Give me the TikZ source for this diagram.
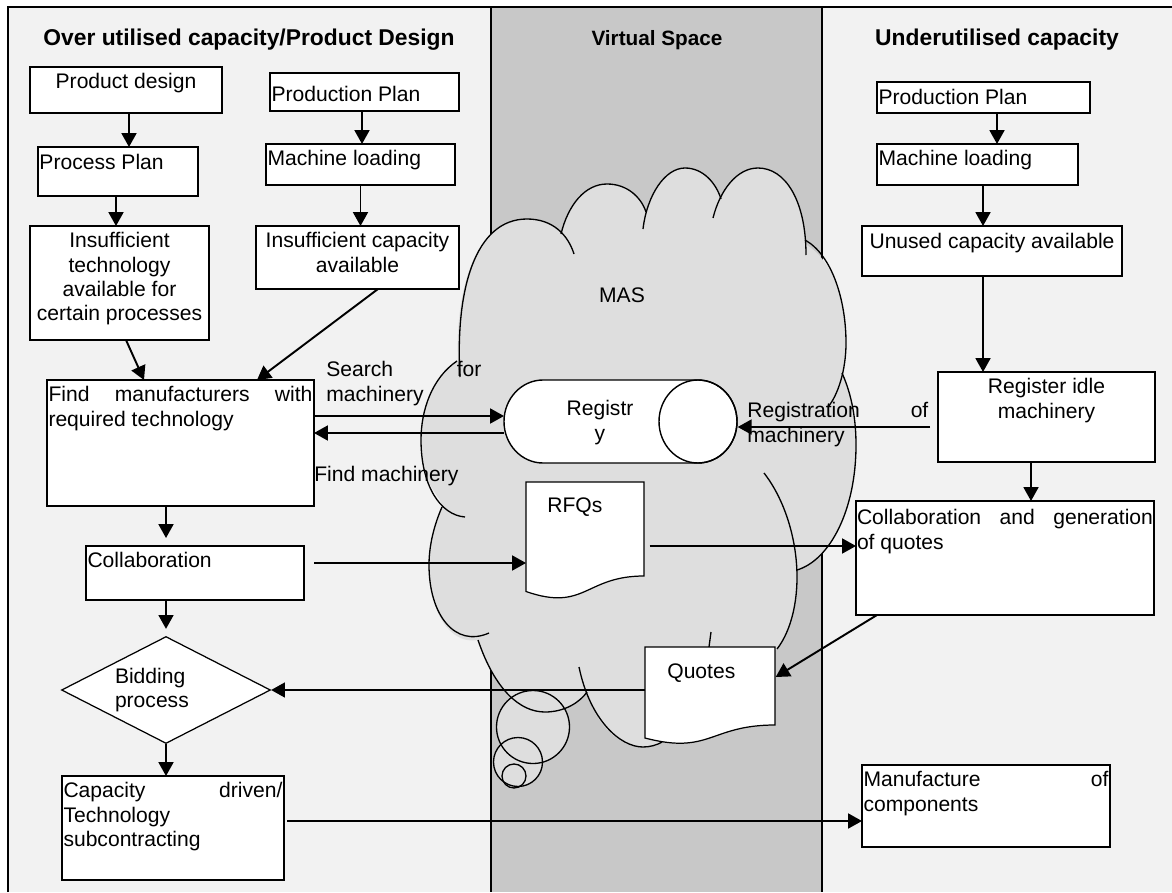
\documentclass[tikz,border=0pt]{standalone}
\usepackage{fontspec}
\setmainfont{Liberation Sans}
\usetikzlibrary{arrows.meta,shapes.geometric}
\newlength\px \setlength\px{0.02cm}
\newcommand\mybx[5]{\parbox[c][#2\px][t]{#1\px}{#4\rule{0pt}{#3\px}#5}}
\definecolor{bgc}{HTML}{F2F2F2}
\definecolor{bandc}{HTML}{C8C8C8}
\definecolor{cloudc}{HTML}{DEDEDE}
\begin{document}
\begin{tikzpicture}[x=0.02cm, y=-0.02cm, font=\fontsize{12}{13.9}\selectfont,
  box/.style={draw, fill=white, line width=0.7pt, inner xsep=1.5\px, inner ysep=0pt, outer sep=0pt, anchor=north west},
  arr/.style={line width=1.1pt, -{Triangle[length=7.9pt,width=8.5pt]}},
  lbl/.style={inner sep=0pt, anchor=base west},
  ttl/.style={inner sep=0pt, anchor=base, font=\bfseries\fontsize{13}{15}\selectfont},
  cl/.style={line width=0.75pt},
  frm/.style={line width=0.9pt}]
\useasboundingbox (0,0) rectangle (1172,892);
% background and lanes
\fill[white] (0,0) rectangle (1172,892);
\fill[bgc] (8,7) rectangle (1172,892);
\fill[bandc] (491,7) rectangle (822,892);
\draw[frm] (8,892) -- (8,7) -- (1172,7);
\draw[frm] (491,7) -- (491,892);
\draw[frm] (822,7) -- (822,892);
% titles
\node[ttl] (t1) at (249,46) {Over utilised capacity/Product Design};
\node[ttl, font=\bfseries\fontsize{11.8}{14}\selectfont] (t2) at (657,46) {Virtual Space};
\node[ttl] (t3) at (997,46) {Underutilised capacity};
% cloud fill
\fill[cloudc] (458,361) .. controls (455,290) and (475,219) .. (527,219) .. controls (553,219) and (568,235) .. (574,254)
 -- (561,234) .. controls (568,205) and (585,184) .. (607,184) .. controls (627,184) and (641,197) .. (646,212)
 .. controls (652,188) and (667,168) .. (685,168) .. controls (703,168) and (716,183) .. (721,199)
 .. controls (730,178) and (742,168) .. (758,168) .. controls (785,168) and (806,200) .. (806,250)
 -- (805,244) .. controls (833,260) and (846,300) .. (846,343) .. controls (846,360) and (843,370) .. (841,375)
 -- (842,373) .. controls (852,395) and (856,420) .. (856,445) .. controls (856,510) and (830,560) .. (797,570)
 .. controls (798,605) and (789,633) .. (777,649)
 -- (710,700) -- (662,742)
 .. controls (657,745) and (650,747) .. (643,747) .. controls (620,747) and (595,725) .. (587,691)
 .. controls (580,702) and (565,712) .. (545,712) .. controls (520,712) and (495,690) .. (478,640)
 .. controls (450,645) and (429,612) .. (429,565) .. controls (429,550) and (432,530) .. (442,507)
 -- (440,500) .. controls (425,480) and (421,465) .. (421,440) .. controls (421,410) and (432,378) .. (458,361) -- cycle;
\fill[cloudc] (533,727) circle[radius=36.5\px];
\fill[cloudc] (518,762) circle[radius=24.5\px];
\fill[cloudc] (514,776) circle[radius=12\px];
% cloud strokes
\draw[cl] (460,377) .. controls (455,290) and (475,219) .. (527,219) .. controls (553,219) and (568,235) .. (574,254);
\draw[cl] (561,234) .. controls (568,205) and (585,184) .. (607,184) .. controls (627,184) and (641,197) .. (646,212);
\draw[cl] (643,229) .. controls (647,195) and (665,168) .. (685,168) .. controls (703,168) and (716,183) .. (721,199);
\draw[cl] (713,218) .. controls (720,190) and (737,168) .. (758,168) .. controls (785,168) and (806,200) .. (806,255);
\draw[cl] (805,240) .. controls (832,255) and (846,300) .. (846,343) .. controls (846,370) and (838,395) .. (828,407);
\draw[cl] (842,373) .. controls (852,395) and (856,420) .. (856,445) .. controls (856,510) and (830,560) .. (797,570);
\draw[cl] (764,473) .. controls (785,500) and (797,540) .. (797,577) .. controls (797,610) and (788,635) .. (777,649);
\draw[cl] (579,667) .. controls (590,720) and (620,747) .. (643,747) .. controls (650,747) and (657,745) .. (662,742);
\draw[cl] (478,640) .. controls (495,690) and (520,712) .. (545,712) .. controls (565,712) and (580,702) .. (587,692);
\draw[cl] (442,507) .. controls (432,530) and (429,550) .. (429,565) .. controls (429,615) and (455,648) .. (489,633);
\draw[cl] (457,361) .. controls (432,378) and (421,410) .. (421,440) .. controls (421,485) and (440,515) .. (465,517);
\draw[cl] (711,632) -- (709,647);
\draw[cl] (533,727) circle[radius=36.5\px];
\draw[cl] (518,762) circle[radius=24.5\px];
\draw[cl] (514,776) circle[radius=12\px];
\node[inner sep=0pt] (mas) at (622,295) {MAS};
% registry cylinder
\draw[fill=white, line width=0.8pt] (543,380) -- (698,380) arc[start angle=90,end angle=-90,x radius=39\px,y radius=41.5\px] -- (543,463) arc[start angle=270,end angle=90,x radius=39\px,y radius=41.5\px] -- cycle;
\draw[line width=0.8pt] (698,421.5) ellipse[x radius=39\px, y radius=41.5\px];
\node[inner sep=0pt, anchor=north west, minimum width=233\px, minimum height=83\px] (reg) at (504,380) {};
\node[inner sep=0pt, align=center] (regt) at (600,422.5) {Registr\\y};
% documents
\draw[fill=white, line width=0.7pt] (526,482) -- (644,482) -- (644,576) .. controls (585,576) and (585,612) .. (526,591.5) -- cycle;
\node[inner sep=0pt, anchor=north west, minimum width=118\px, minimum height=110\px] (rfq) at (526,482) {};
\node[lbl] (rfqt) at (547,512.6) {RFQs};
\draw[fill=white, line width=0.7pt] (645,647) -- (775,647) -- (775,725) .. controls (710,725) and (710,755) .. (645,738) -- cycle;
\node[inner sep=0pt, anchor=north west, minimum width=130\px, minimum height=91\px] (quo) at (645,647) {};
\node[lbl] (quot) at (667,678.6) {Quotes};
% left lane boxes
\node[box] (pd) at (30,67) {\mybx{189}{46}{21.6}{\centering}{Product design}};
\node[box] (pp) at (38,147) {\mybx{157}{49}{22.6}{\raggedright}{Process Plan}};
\node[box] (it) at (30,226) {\mybx{176}{114}{21.6}{\centering}{Insufficient\\technology\\available for\\certain processes}};
\node[box] (ppl) at (270,73) {\mybx{186}{38}{28.6}{\raggedright}{Production Plan}};
\node[box] (mll) at (266,144) {\mybx{186}{41}{21.6}{\raggedright}{Machine loading}};
\node[box] (ic) at (256,226) {\mybx{200}{63}{21.6}{\centering}{Insufficient capacity\\available}};
\node[box] (find) at (47,380) {\mybx{264}{126}{21.6}{}{Find\hfill manufacturers\hfill with\\required technology}};
\node[box] (coll) at (86,546) {\mybx{215}{54}{21.6}{\raggedright}{Collaboration}};
\node[draw, fill=white, diamond, aspect=1.95, minimum width=209\px, minimum height=107\px, inner sep=0pt, line width=0.7pt, text width=102\px, align=left] (bid) at (166,690) {Bidding\\process};
\node[box] (cap) at (62,776) {\mybx{219}{104}{21.6}{}{Capacity\hfill driven/\\Technology\\subcontracting}};
% right lane boxes
\node[box] (ppr) at (877,82) {\mybx{210}{31}{22.6}{\raggedright}{Production Plan}};
\node[box] (mlr) at (877,144) {\mybx{198}{41}{21.6}{\raggedright}{Machine loading}};
\node[box] (unused) at (862,226) {\mybx{257}{50}{22.6}{\centering}{Unused capacity available}};
\node[box] (regidle) at (938,372) {\mybx{214}{90}{21.6}{\centering}{Register idle\\machinery}};
\node[box, inner xsep=1\px] (cq) at (856,501) {\mybx{296}{114}{23.6}{}{Collaboration\hfill and\hfill generation\\of quotes}};
\node[box] (man) at (862,765) {\mybx{245}{82}{21.6}{}{Manufacture\hfill of\\components}};
% arrows
\draw[arr] ([xshift=3\px]pd.south) -- ([xshift=3\px]pd.south |- pp.north);
\draw[arr] ([xshift=-2\px]pp.south) -- ([xshift=-2\px]pp.south |- it.north);
\draw[arr] ([xshift=-2.5\px]ppl.south) -- ([xshift=-2.5\px]ppl.south |- mll.north);
\draw[arr] (mll.south) -- (mll.south |- ic.north);
\draw[arr] ([xshift=6.5\px]it.south) -- ([xshift=97\px]find.north west);
\draw[arr] ([xshift=122\px]ic.south west) -- ([xshift=210\px]find.north west);
\draw[arr] ([yshift=-36\px]find.north east) -- ([yshift=-36\px]reg.north west);
\draw[arr] ([yshift=-53\px]reg.north west) -- ([yshift=-53\px]find.north east);
\draw[arr, shorten >=8\px] ([xshift=-14.5\px]find.south) -- ([xshift=-14.5\px]find.south |- coll.north);
\draw[arr, shorten >=7\px] ([xshift=-29\px]coll.south) -- (bid.north);
\draw[arr] (bid.south) -- (bid.south |- cap.north);
\draw[arr] ([xshift=10\px,yshift=-17\px]coll.north east) -- ([yshift=-81\px]rfq.north west);
\draw[arr] ([xshift=5\px,yshift=-64\px]rfq.north east) -- ([yshift=-45\px]cq.north west);
\draw[arr] ([xshift=120\px]ppr.south west) -- ([xshift=120\px]ppr.south west |- mlr.north);
\draw[arr] ([xshift=106\px]mlr.south west) -- ([xshift=106\px]mlr.south west |- unused.north);
\draw[arr] ([xshift=121\px]unused.south west) -- ([xshift=121\px]unused.south west |- regidle.north);
\draw[arr, shorten <=8\px] ([yshift=-55\px]regidle.north west) -- ([yshift=-47\px]reg.north east);
\draw[arr] ([xshift=93\px]regidle.south west) -- ([xshift=93\px]regidle.south west |- cq.north);
\draw[arr] ([xshift=21\px]cq.south west) -- ([yshift=-30\px]quo.north east);
\draw[arr] (quo.north west |- bid.east) -- (bid.east);
\draw[arr] ([xshift=3\px,yshift=-45\px]cap.north east) -- ([yshift=-56\px]man.north west);
% connector labels
\node[lbl] (srch) at (326,376.6) {\parbox[t]{155\px}{Search\hfill for\\machinery}};
\node[lbl] (fmach) at (314,481.6) {Find machinery};
\node[lbl] (regm) at (747,417.6) {\parbox[t]{181\px}{Registration\hfill of\\machinery}};
\end{tikzpicture}
\end{document}
